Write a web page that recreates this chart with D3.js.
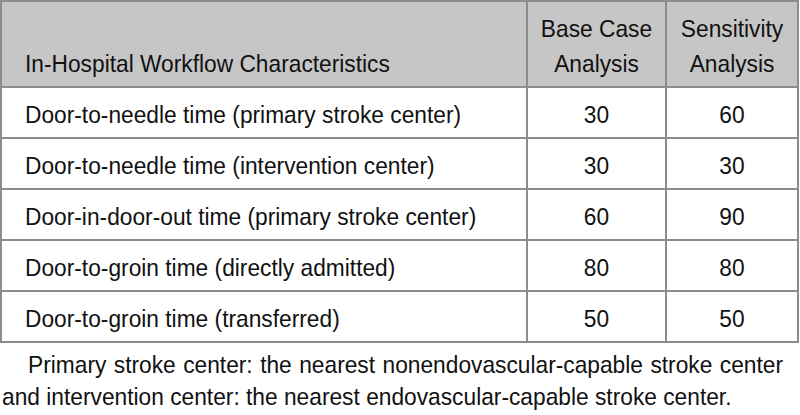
<!DOCTYPE html>
<html>
<head>
<meta charset="utf-8">
<script src="https://cdn.jsdelivr.net/npm/d3@7"></script>
<style>
  html, body { margin: 0; padding: 0; background: #fff; }
  svg text { font-family: "Liberation Sans", Arial, sans-serif; fill: #111; }
</style>
</head>
<body>
<svg id="chart" width="800" height="415"></svg>
<script>
// ---- data ----
const headerLabels = ["In-Hospital Workflow Characteristics", "Base Case|Analysis", "Sensitivity|Analysis"];
const characteristics = [
  "Door-to-needle time (primary stroke center)",
  "Door-to-needle time (intervention center)",
  "Door-in-door-out time (primary stroke center)",
  "Door-to-groin time (directly admitted)",
  "Door-to-groin time (transferred)"
];
const baseCase = [30, 30, 60, 80, 50];
const sensitivity = [60, 30, 90, 80, 50];
const footnoteLines = [
  "Primary stroke center: the nearest nonendovascular-capable stroke center",
  "and intervention center: the nearest endovascular-capable stroke center."
];

// ---- layout ----
const svg = d3.select("#chart");
const tLeft = 1, tRight = 798, tTop = 1, headerBottom = 87, tableBottom = 342;
const colEdges = [tLeft, 527, 666, tRight];
const fontSize = 24;
const lineColor = "#8c8c8c";

// measure condensing factor so header label spans its reference width
const probe = svg.append("text").attr("font-size", fontSize).text(headerLabels[0]);
const natural = probe.node().getComputedTextLength();
probe.remove();
const sx = 365 / natural;

function addText(parent, x, y, str, anchor) {
  return parent.append("text")
    .attr("transform", `translate(${x},${y}) scale(${sx},1)`)
    .attr("font-size", fontSize)
    .attr("text-anchor", anchor || "start")
    .text(str);
}

const yRow = d3.scaleBand().domain(d3.range(characteristics.length)).range([headerBottom, tableBottom]);

// header background
svg.append("rect").attr("x", tLeft).attr("y", tTop)
  .attr("width", tRight - tLeft).attr("height", headerBottom - tTop)
  .attr("fill", "#c6c6c6");

// header texts
const hdr = svg.append("g");
addText(hdr, 25, 72, headerLabels[0]);
[1, 2].forEach(i => {
  const cx = (colEdges[i] + colEdges[i + 1]) / 2;
  headerLabels[i].split("|").forEach((p, k) => addText(hdr, cx, 37 + k * 35, p, "middle"));
});

// rows
const body = svg.append("g");
characteristics.forEach((c, i) => {
  const y = yRow(i) + yRow.bandwidth() / 2 + 10;
  addText(body, 25, y, c);
  addText(body, (colEdges[1] + colEdges[2]) / 2, y, baseCase[i], "middle");
  addText(body, (colEdges[2] + colEdges[3]) / 2, y, sensitivity[i], "middle");
});

// grid lines
const grid = svg.append("g").attr("stroke", lineColor).attr("stroke-width", 2).attr("fill", "none");
const hLines = [tTop, headerBottom].concat(d3.range(characteristics.length).map(i => yRow(i) + yRow.bandwidth()));
grid.selectAll("line.h").data(hLines).join("line").attr("class", "h")
  .attr("x1", tLeft - 1).attr("x2", tRight + 1).attr("y1", d => d).attr("y2", d => d);
grid.selectAll("line.v").data(colEdges).join("line").attr("class", "v")
  .attr("x1", d => d).attr("x2", d => d).attr("y1", tTop).attr("y2", tableBottom);

// footnote: condensed glyphs, line 1 justified via word spacing
const fn = svg.append("g");
const f1 = addText(fn, 28, 373, footnoteLines[0]);
const w1 = f1.node().getComputedTextLength();
const spaces1 = footnoteLines[0].split(" ").length - 1;
f1.attr("word-spacing", (755 / sx - w1) / spaces1);
addText(fn, 2, 405, footnoteLines[1]);
</script>
</body>
</html>
